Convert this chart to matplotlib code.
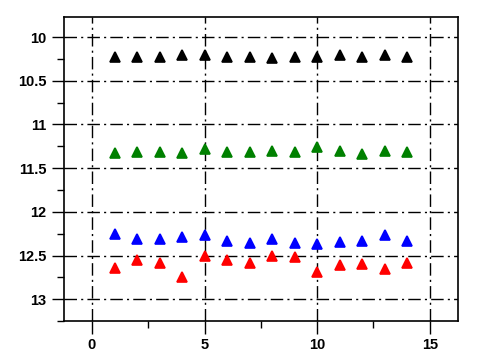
import numpy as np
import matplotlib.pyplot as plt
from matplotlib.ticker import MultipleLocator

plt.rcParams['font.family'] = ['Liberation Sans', 'DejaVu Sans']

# Data (y axis is inverted)
x = list(range(1, 15))
black = [10.23, 10.23, 10.23, 10.21, 10.2, 10.23, 10.23, 10.24, 10.23, 10.23, 10.2, 10.23, 10.2, 10.23]
green = [11.33, 11.31, 11.31, 11.33, 11.28, 11.31, 11.31, 11.3, 11.31, 11.26, 11.3, 11.34, 11.3, 11.31]
blue = [12.25, 12.31, 12.31, 12.29, 12.27, 12.33, 12.36, 12.31, 12.36, 12.37, 12.34, 12.33, 12.27, 12.33]
red = [12.64, 12.55, 12.59, 12.745, 12.5, 12.55, 12.59, 12.5, 12.52, 12.69, 12.61, 12.6, 12.65, 12.59]

series = [(black, "black"), (green, "green"), (blue, "blue"), (red, "red")]

fig = plt.figure(figsize=(4.8, 3.62), dpi=100)
ax = fig.add_axes([0.133, 0.113, 0.821, 0.84])

for vals, col in series:
    ax.plot(x, vals, linestyle="none", marker="^", markersize=7.5, color=col,
            markeredgewidth=1.2, zorder=3)

ax.set_xlim(-1.25, 16.25)
ax.set_ylim(13.25, 9.77)

ax.xaxis.set_major_locator(MultipleLocator(5))
ax.xaxis.set_minor_locator(MultipleLocator(2.5))
ax.yaxis.set_minor_locator(MultipleLocator(0.25))
ax.set_yticks([10, 10.5, 11, 11.5, 12, 12.5, 13])
ax.set_yticklabels(["10", "10.5", "11", "11.5", "12", "12.5", "13"])

ax.grid(True, which="major", color="black", linestyle=(0, (9, 3, 1.5, 3)), linewidth=1)
ax.tick_params(which="major", direction="out", length=9, width=1, labelsize=10.5)
ax.tick_params(which="minor", direction="out", length=5, width=1)
for lab in ax.get_xticklabels() + ax.get_yticklabels():
    lab.set_fontweight("bold")

for sp in ax.spines.values():
    sp.set_linewidth(1.2)

fig.savefig("out.png", dpi=100)
